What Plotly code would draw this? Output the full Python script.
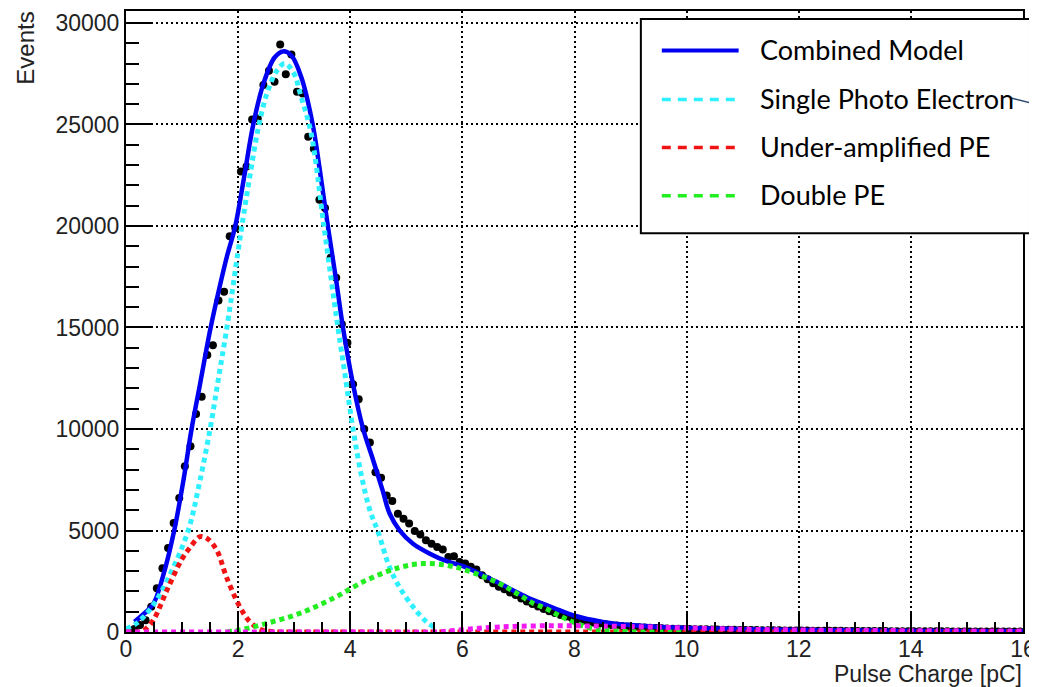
import plotly.graph_objects as go

# ---------------- data ----------------
bin_x = [round(0.05 + 0.1 * k, 2) for k in range(160)]
counts = [
    60, 150, 350, 580, 1240, 2160, 3140, 4140, 5370, 6600,
    8170, 9150, 10740, 11590, 13650, 14130, 16330, 16760, 19490, 19900,
    22680, 22930, 25250, 25300, 26940, 27650, 27100, 28940, 27480, 28450,
    26610, 26530, 24400, 23800, 21290, 20880, 18430, 17450, 15160, 14250,
    12210, 11470, 10000, 9340, 7870, 7600, 6730, 6450, 5830, 5580,
    5340, 4980, 4800, 4520, 4350, 4190, 4060, 3700, 3730, 3450,
    3370, 3210, 3080, 2800, 2600, 2400, 2230, 2100, 1950, 1820,
    1650, 1500, 1380, 1260, 1130, 1020, 930, 840, 760, 690,
    620, 560, 510, 460, 420, 380, 350, 320, 295, 270,
    250, 235, 220, 205, 195, 185, 175, 165, 160, 150,
    145, 140, 135, 130, 125, 120, 116, 112, 108, 104,
    100, 97, 94, 90, 88, 85, 82, 79, 77, 74,
    72, 70, 67, 65, 63, 61, 59, 57, 55, 54,
    52, 50, 48, 47, 45, 44, 42, 41, 40, 38,
    37, 36, 35, 34, 33, 32, 31, 30, 29, 28,
    27, 26, 26, 25, 24, 23, 23, 22, 21, 21,
]

comb_x = [0.15, 0.3, 0.49, 0.66, 0.86, 1.02, 1.17, 1.32, 1.51, 1.67, 1.8, 1.95, 2.1, 2.27,
          2.45, 2.65, 2.8, 2.95, 3.13, 3.33, 3.46, 3.6, 3.75, 3.87, 4.05, 4.23, 4.41, 4.58,
          4.7, 4.88, 5.12, 5.42, 5.71, 6.01, 6.31, 6.61, 6.9, 7.2, 7.5, 7.73, 8.0, 8.5,
          9.0, 9.5, 10.0, 11.0, 12.0, 13.0, 14.0, 15.0, 16.0]
comb_y = [500, 850, 1400, 2750, 5000, 7400, 10000, 12200, 15000, 17000, 18500, 20000, 22300, 25000,
          27000, 28300, 28600, 28400, 27300, 25000, 22700, 20000, 17300, 15000, 12200, 10000, 8450, 6950,
          5850, 5010, 4350, 3860, 3500, 3240, 2880, 2470, 2060, 1650, 1330, 1080, 800, 500,
          340, 260, 200, 140, 100, 75, 55, 40, 30]

spe_x = [0.0, 0.2, 0.49, 0.78, 1.11, 1.3, 1.5, 1.65, 1.8, 2.05, 2.2, 2.35, 2.5, 2.68, 2.83,
         2.98, 3.13, 3.3, 3.53, 3.78, 3.9, 4.05, 4.2, 4.35, 4.5, 4.7, 4.88, 5.12, 5.36, 5.55]
spe_y = [150, 450, 1350, 2800, 5000, 7200, 10000, 12500, 15000, 19700, 22300, 24700, 26400, 27600, 28000,
         27600, 26300, 24600, 20000, 15000, 12800, 10000, 7700, 6000, 4900, 3200, 2200, 1240, 500, 150]

under_x = [0.0, 0.25, 0.35, 0.49, 0.73, 1.0, 1.14, 1.32, 1.45, 1.62, 1.79, 2.03, 2.21, 2.4, 2.6,
           3.0, 6.0, 10.0, 16.0]
under_y = [0, 20, 150, 590, 2060, 3600, 4150, 4700, 4600, 4030, 2720, 1240, 505, 120, 20,
           0, 0, 0, 0]

double_x = [1.8, 2.03, 2.51, 3.1, 3.69, 4.29, 4.88, 5.3, 5.71, 6.07, 6.66, 7.0, 7.26, 7.5, 7.73,
            7.97, 8.3, 8.56, 9.0, 10.0]
double_y = [0, 100, 425, 920, 1650, 2550, 3180, 3370, 3290, 3040, 2390, 1850, 1420, 1150, 800,
            500, 180, 100, 20, 0]

other_x = [0.0, 2.0, 4.0, 5.5, 5.8, 6.2, 6.6, 7.0, 7.5, 8.0, 8.5, 9.0, 9.5, 10.0, 10.5, 11.0,
           12.0, 13.0, 14.0, 15.0, 16.0]
other_y = [0, 0, 0, 0, 60, 160, 240, 285, 305, 305, 290, 265, 235, 200, 165, 135,
           100, 80, 65, 55, 45]

legend_labels = ["Combined Model", "Single Photo Electron", "Under-amplified PE", "Double PE"]

x_ticks = [0, 2, 4, 6, 8, 10, 12, 14, 16]
y_ticks = [0, 5000, 10000, 15000, 20000, 25000, 30000]

# ---------------- styling ----------------
C_BLUE = "#0000f0"
C_CYAN = "#2ef0ff"
C_RED = "#f01414"
C_GREEN = "#22ee22"
C_MAG = "#f01af0"
DASH = "5px,4px"

fig = go.Figure()

fig.add_trace(go.Scatter(x=bin_x, y=counts, mode="markers",
                         marker=dict(color="black", size=8), showlegend=False))
fig.add_trace(go.Scatter(x=comb_x, y=comb_y, mode="lines", line_shape="spline",
                         line=dict(color=C_BLUE, width=4.5), showlegend=False))
fig.add_trace(go.Scatter(x=spe_x, y=spe_y, mode="lines", line_shape="spline",
                         line=dict(color=C_CYAN, width=5, dash=DASH), showlegend=False))
fig.add_trace(go.Scatter(x=under_x, y=under_y, mode="lines", line_shape="spline",
                         line=dict(color=C_RED, width=5, dash=DASH), showlegend=False))
fig.add_trace(go.Scatter(x=double_x, y=double_y, mode="lines", line_shape="spline",
                         line=dict(color=C_GREEN, width=5, dash=DASH), showlegend=False))
fig.add_trace(go.Scatter(x=other_x, y=other_y, mode="lines", line_shape="spline",
                         line=dict(color=C_MAG, width=5, dash=DASH), showlegend=False))

# ---------------- geometry (page body has an 8px margin) ----------------
OFF = 8
FW, FH = 1037 - OFF, 687 - OFF
L, W, T, H = 126, 899, 9, 623          # plot area in screen pixels
def px(xp):
    return (xp - L) / W
def py(yp):
    return (T + H - yp) / H

shapes = [dict(type="rect", xref="paper", yref="paper", x0=px(642), x1=px(1032),
               y0=py(232), y1=py(17), fillcolor="white", line=dict(color="black", width=2),
               layer="above")]
leg_y = [48.7, 97.7, 146, 194.3]
leg_col = [C_BLUE, C_CYAN, C_RED, C_GREEN]
leg_dash = ["solid", "9px,7px", "9px,7px", "9px,7px"]
leg_w = [4, 3.5, 3.5, 3.5]
annotations = []
for lab, yy, col, ds, lw in zip(legend_labels, leg_y, leg_col, leg_dash, leg_w):
    shapes.append(dict(type="line", xref="paper", yref="paper", x0=px(663), x1=px(740),
                       y0=py(yy), y1=py(yy), line=dict(color=col, width=lw, dash=ds), layer="above"))
    annotations.append(dict(text=lab, xref="paper", yref="paper", x=px(759), y=py(yy - 1),
                            xanchor="left", yanchor="middle", showarrow=False,
                            font=dict(family="Lato", size=27, color="black")))
# pointer line leaving the legend
shapes.append(dict(type="line", xref="paper", yref="paper", x0=px(1012), x1=px(1040),
                   y0=py(96), y1=py(103), line=dict(color="#2c4a6e", width=1.5), layer="above"))

# axis titles
annotations.append(dict(text="Events", xref="paper", yref="paper", x=px(25), y=py(8),
                        xanchor="center", yanchor="top", textangle=-90, showarrow=False,
                        font=dict(family="Liberation Sans", size=24, color="#222")))
annotations.append(dict(text="Pulse Charge [pC]", xref="paper", yref="paper", x=px(1026), y=py(659),
                        xanchor="right", yanchor="top", showarrow=False,
                        font=dict(family="Liberation Sans", size=23, color="#222")))

axis_font = dict(family="Liberation Sans", size=23, color="#222")
fig.update_layout(
    width=FW, height=FH, autosize=False,
    margin=dict(l=L - OFF, r=FW - (L - OFF) - W, t=T - OFF, b=FH - (T - OFF) - H, pad=0),
    paper_bgcolor="white", plot_bgcolor="white",
    shapes=shapes, annotations=annotations, showlegend=False,
    xaxis=dict(range=[0, 16], tickvals=x_ticks, ticktext=[str(v) for v in x_ticks],
               ticks="inside", ticklen=20, tickwidth=1.5, tickcolor="black",
               minor=dict(ticks="inside", ticklen=10, tickwidth=1.5, tickcolor="black", dtick=0.5,
                          showgrid=False),
               showline=True, linecolor="black", linewidth=2, mirror=True,
               showgrid=True, gridcolor="black", gridwidth=1.5, griddash="2px,3px",
               zeroline=False, tickfont=axis_font, ticklabelstandoff=-5,
               ticklabeloverflow="allow"),
    yaxis=dict(range=[0, 30590], tickvals=y_ticks, ticktext=[str(v) for v in y_ticks],
               ticks="inside", ticklen=27, tickwidth=1.5, tickcolor="black",
               minor=dict(ticks="inside", ticklen=13, tickwidth=1.5, tickcolor="black", dtick=1000,
                          showgrid=False),
               showline=True, linecolor="black", linewidth=2, mirror=True,
               showgrid=True, gridcolor="black", gridwidth=1.5, griddash="2px,3px",
               zeroline=False, tickfont=axis_font),
)

fig.write_html("out.html")
